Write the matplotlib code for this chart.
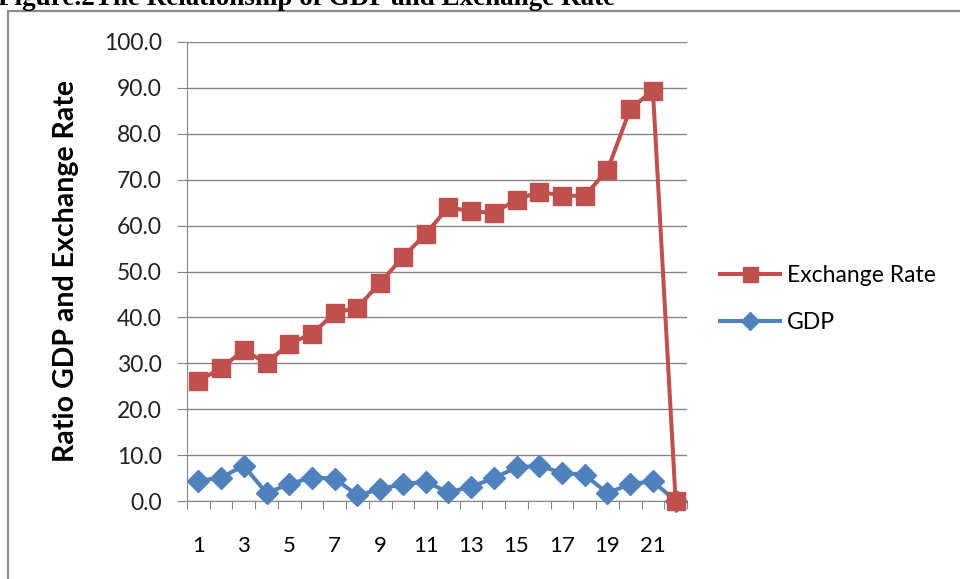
"""
Figure 2: GDP and exchange rate, line chart with square / diamond markers.
"""

import matplotlib
matplotlib.use("Agg")
import matplotlib.pyplot as plt
from matplotlib.patches import Rectangle

TITLE = "Figure.2The Relationship of GDP and Exchange Rate"
Y_LABEL = "Ratio GDP and Exchange Rate"

periods = list(range(1, 23))
exchange_rate = [26.2, 28.9, 32.9, 30.0, 34.3, 36.4, 41.0, 42.1, 47.6, 53.1, 58.2,
                 64.0, 63.1, 62.8, 65.6, 67.4, 66.5, 66.5, 72.1, 85.4, 89.4, 0.0]
gdp = [4.4, 5.1, 7.7, 1.7, 3.7, 5.1, 4.9, 1.2, 2.6, 3.7, 4.2,
       1.9, 3.1, 5.0, 7.3, 7.7, 6.1, 5.7, 1.7, 3.7, 4.3, 0.0]
y_ticks = [0, 10, 20, 30, 40, 50, 60, 70, 80, 90, 100]
x_labels = [1, 3, 5, 7, 9, 11, 13, 15, 17, 19, 21]

RED = "#C0504D"
BLUE = "#4F81BD"
GRID = "#868686"
SANS = ["Lato", "DejaVu Sans"]


def main():
    fig = plt.figure(figsize=(9.6, 5.79), dpi=100)

    # outer chart frame (right/bottom edges fall outside the image)
    fig.patches.append(Rectangle((8 / 960, -0.05), 1.1, 1 - 11 / 579 + 0.05,
                                 transform=fig.transFigure, fill=False,
                                 edgecolor="#8c8c8c", linewidth=1.6))
    # title is cut by the top edge in the source picture
    fig.text(-0.002, 1 - 5 / 579, TITLE, fontsize=19.5, fontweight="bold",
             family="Liberation Serif", ha="left", va="baseline")

    ax = fig.add_axes([187 / 960, 1 - 501 / 579, 500 / 960, 459 / 579])

    ax.plot(periods, exchange_rate, color=RED, lw=2.9, marker="s", ms=13.5,
            label="Exchange Rate", clip_on=False, zorder=4)
    ax.plot(periods, gdp, color=BLUE, lw=2.9, marker="D", ms=11.5,
            label="GDP", clip_on=False, zorder=3)

    ax.set_xlim(0.5, 22.5)
    ax.set_ylim(0, 100)

    ax.set_yticks(y_ticks)
    ax.set_yticklabels([f"{v:.1f}" for v in y_ticks])
    ax.yaxis.grid(True, color=GRID, lw=1)
    ax.set_axisbelow(True)

    # tick marks sit on category boundaries, labels on odd categories
    ax.set_xticks([i + 0.5 for i in range(0, 23)])
    ax.set_xticklabels([])
    ax.set_xticks(x_labels, minor=True)
    ax.set_xticklabels([str(v) for v in x_labels], minor=True)

    ax.tick_params(axis="x", which="major", length=6, color=GRID, direction="out")
    ax.tick_params(axis="x", which="minor", length=0, pad=25, labelsize=16)
    ax.tick_params(axis="y", length=7, color=GRID, pad=11, labelsize=16.5,
                   labelcolor="#222222")
    for lab in ax.get_xticklabels(minor=True) + ax.get_yticklabels():
        lab.set_family(SANS)

    for side in ("top", "right"):
        ax.spines[side].set_visible(False)
    for side in ("left", "bottom"):
        ax.spines[side].set_color(GRID)

    ax.set_ylabel(Y_LABEL, fontsize=20.5, fontweight="bold", family=SANS, labelpad=18)

    ax.legend(loc="center left", bbox_to_anchor=(1.025, 0.44), frameon=False,
              prop={"family": SANS, "size": 16.5}, handlelength=2.6,
              handletextpad=0.3, labelspacing=1.15, markerscale=0.8)

    fig.savefig("out.png", dpi=100)
    plt.close(fig)


if __name__ == "__main__":
    main()
